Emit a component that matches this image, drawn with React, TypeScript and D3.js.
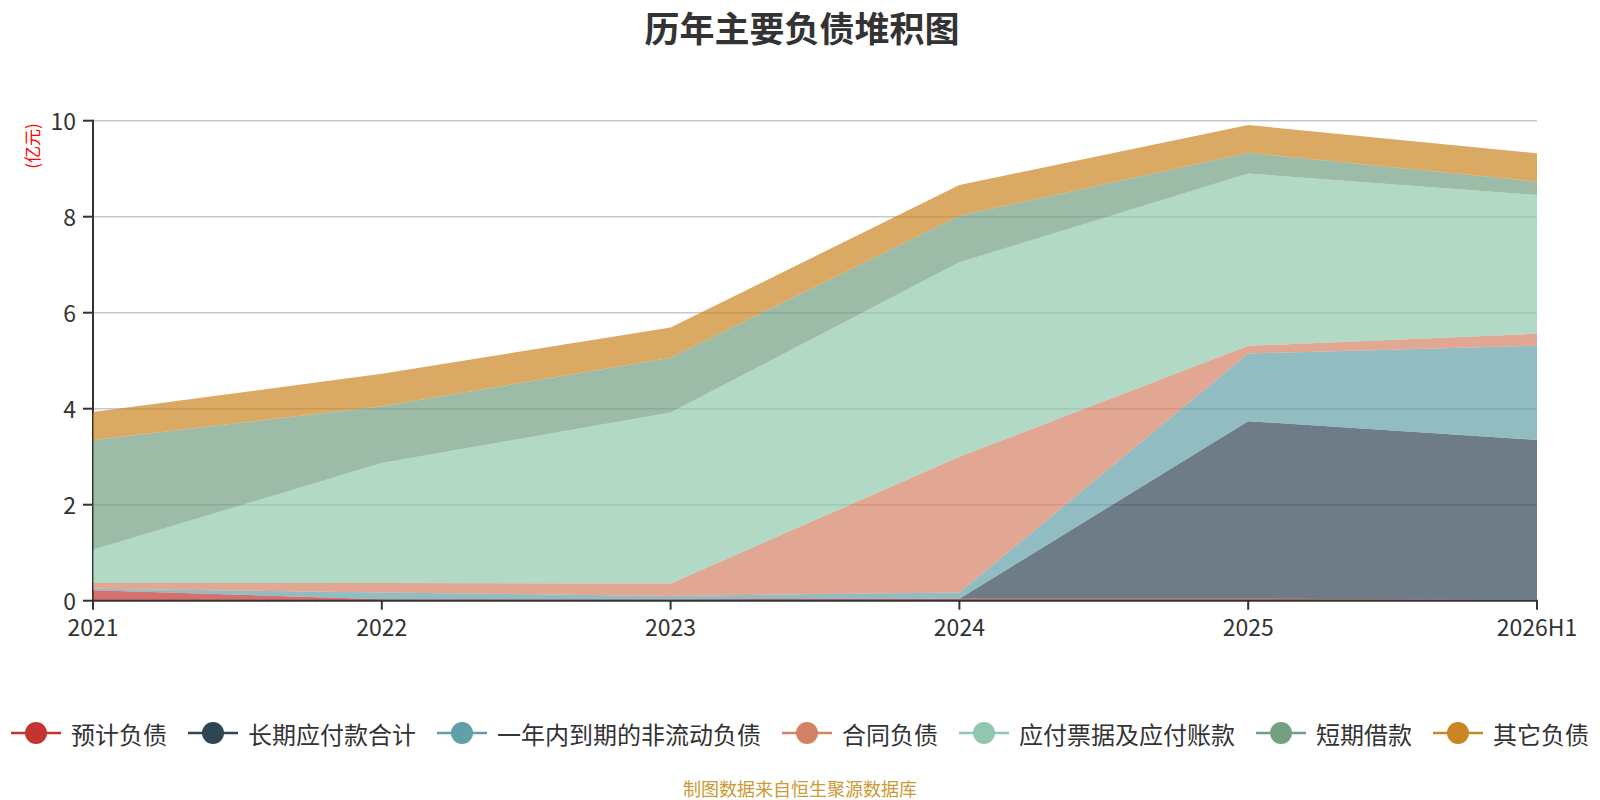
import React from 'react';
import * as d3 from 'd3';

const categories = ['2021', '2022', '2023', '2024', '2025', '2026H1'];
const seriesNames = ['预计负债', '长期应付款合计', '一年内到期的非流动负债', '合同负债', '应付票据及应付账款', '短期借款', '其它负债'];
const colors = ['#c23531', '#2f4554', '#61a0a8', '#d48265', '#91c7ae', '#749f83', '#ca8622'];

const yjfz = [0.22, 0.03, 0.03, 0.04, 0.04, 0.02];
const cqyfk = [0, 0, 0, 0, 3.70, 3.33];
const ynndq = [0.03, 0.14, 0.07, 0.13, 1.41, 1.96];
const htfz = [0.12, 0.20, 0.26, 2.83, 0.16, 0.25];
const yfpj = [0.69, 2.50, 3.56, 4.05, 3.59, 2.89];
const dqjk = [2.29, 1.18, 1.14, 0.97, 0.43, 0.28];
const qtfz = [0.58, 0.68, 0.63, 0.64, 0.58, 0.59];

const yTicks = [0, 2, 4, 6, 8, 10];

const W = 1600;
const H = 800;
const left = 93;
const right = 1537;
const top = 120.7;
const bottom = 600.7;
const FONT = '"Noto Sans CJK SC", "Noto Sans", sans-serif';

export default function App() {
  const seriesValues = [yjfz, cqyfk, ynndq, htfz, yfpj, dqjk, qtfz];
  const rows = categories.map((c, i) => {
    const r: Record<string, any> = { cat: c };
    seriesNames.forEach((n, k) => (r[n] = seriesValues[k][i]));
    return r;
  });
  const stacked = d3.stack<any>().keys(seriesNames)(rows);

  const x = d3.scalePoint<string>().domain(categories).range([left, right]);
  const y = d3.scaleLinear().domain([0, 10]).range([bottom, top]);

  const area = d3
    .area<any>()
    .x((d) => x(d.data.cat) as number)
    .y0((d) => y(d[0]))
    .y1((d) => y(d[1]))
    .curve(d3.curveLinear);

  // legend layout
  const charW = 24;
  const lineW = 50;
  const gapLT = 10;
  const gapItem = 21;
  const widths = seriesNames.map((n) => lineW + gapLT + n.length * charW);
  const total = widths.reduce((a, b) => a + b, 0) + gapItem * (seriesNames.length - 1);
  let cursor = W / 2 - total / 2;
  const legendItems = seriesNames.map((n, i) => {
    const pos = cursor;
    cursor += widths[i] + gapItem;
    return { name: n, x: pos, color: colors[i] };
  });
  const legendY = 733;

  return (
    <div style={{ position: 'absolute', left: 0, top: 0 }}>
      <svg width={W} height={H} style={{ display: 'block', fontFamily: FONT }}>
        <rect width={W} height={H} fill="#fff" />
        <text x={802} y={26} textAnchor="middle" dominantBaseline="central" fontSize={35} fontWeight="bold" fill="#333">
          历年主要负债堆积图
        </text>

        {/* grid lines */}
        {yTicks
          .filter((t) => t !== 0)
          .map((t) => (
            <line key={t} x1={left} x2={right} y1={y(t)} y2={y(t)} stroke="#c8c8c8" strokeWidth={1.5} />
          ))}

        {/* y axis */}
        <line x1={left} x2={left} y1={top - 1} y2={bottom} stroke="#333" strokeWidth={2} />
        {yTicks.map((t) => (
          <g key={t}>
            <line x1={left - 10} x2={left} y1={y(t)} y2={y(t)} stroke="#333" strokeWidth={2} />
            <text x={left - 17} y={y(t) - 1} textAnchor="end" dominantBaseline="central" fontSize={23} fill="#333">
              {t}
            </text>
          </g>
        ))}
        <text
          transform={`translate(31,146) rotate(-90)`}
          textAnchor="middle"
          dominantBaseline="central"
          fontSize={17}
          fill="#ff0000"
        >
          (亿元)
        </text>

        {/* areas */}
        {stacked.map((s, i) => (
          <path key={s.key} d={area(s as any) || ''} fill={colors[i]} fillOpacity={0.7} stroke="none" />
        ))}

        {/* x axis */}
        <line x1={left - 1} x2={right + 1} y1={bottom} y2={bottom} stroke="#333" strokeWidth={2} />
        {categories.map((c) => (
          <g key={c}>
            <line x1={x(c)} x2={x(c)} y1={bottom} y2={bottom + 9} stroke="#333" strokeWidth={2} />
            <text x={x(c)} y={626} textAnchor="middle" dominantBaseline="central" fontSize={23} fill="#333">
              {c}
            </text>
          </g>
        ))}

        {/* legend */}
        {legendItems.map((it) => (
          <g key={it.name}>
            <line x1={it.x} x2={it.x + lineW} y1={legendY} y2={legendY} stroke={it.color} strokeWidth={2.5} />
            <circle cx={it.x + lineW / 2} cy={legendY} r={11} fill={it.color} />
            <text x={it.x + lineW + gapLT} y={legendY} dominantBaseline="central" fontSize={24} fill="#333">
              {it.name}
            </text>
          </g>
        ))}

        <text x={800} y={788} textAnchor="middle" dominantBaseline="central" fontSize={18} fill="#cc9933">
          制图数据来自恒生聚源数据库
        </text>
      </svg>
    </div>
  );
}
